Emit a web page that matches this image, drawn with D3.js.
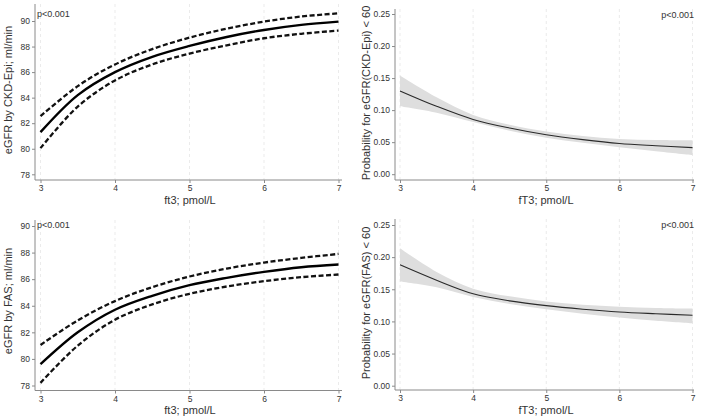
<!DOCTYPE html>
<html>
<head>
<meta charset="utf-8">
<script src="https://cdn.jsdelivr.net/npm/d3@7"></script>
<style>
  html, body { margin: 0; padding: 0; background: #fff; }
  svg { display: block; font-family: "Liberation Sans", Arial, sans-serif; }
</style>
</head>
<body>
<svg id="chart" width="702" height="420"></svg>
<script>
// ---- data ----
const ft3 = [3, 3.5, 4, 4.5, 5, 5.5, 6, 6.5, 7];
const xTicks = [3, 4, 5, 6, 7];

// eGFR by CKD-Epi
const ckdFit   = [81.3, 84.2, 86.0, 87.2, 88.05, 88.75, 89.3, 89.7, 89.95];
const ckdUpper = [82.55, 84.9, 86.6, 87.8, 88.7, 89.4, 89.95, 90.35, 90.6];
const ckdLower = [80.05, 83.3, 85.35, 86.6, 87.45, 88.1, 88.65, 89.0, 89.25];

// eGFR by FAS
const fasFit   = [79.6, 82.0, 83.7, 84.75, 85.55, 86.1, 86.55, 86.9, 87.1];
const fasUpper = [81.05, 82.9, 84.35, 85.4, 86.2, 86.8, 87.25, 87.6, 87.9];
const fasLower = [78.2, 81.0, 82.95, 84.1, 84.9, 85.45, 85.85, 86.15, 86.35];

// Probability eGFR(CKD-Epi) < 60
const pCkdFit   = [0.130, 0.106, 0.0855, 0.072, 0.0615, 0.054, 0.048, 0.0445, 0.0415];
const pCkdUpper = [0.154, 0.120, 0.0925, 0.077, 0.0665, 0.0595, 0.0548, 0.0533, 0.053];
const pCkdLower = [0.106, 0.096, 0.0815, 0.068, 0.057, 0.049, 0.042, 0.036, 0.030];

// Probability eGFR(FAS) < 60
const pFasFit   = [0.188, 0.164, 0.143, 0.132, 0.1245, 0.119, 0.1147, 0.112, 0.1097];
const pFasUpper = [0.214, 0.177, 0.151, 0.139, 0.131, 0.126, 0.123, 0.121, 0.120];
const pFasLower = [0.162, 0.153, 0.138, 0.127, 0.119, 0.112, 0.106, 0.101, 0.097];

const egfrTicks = [78, 80, 82, 84, 86, 88, 90];
const probTicks = [0, 0.05, 0.10, 0.15, 0.20, 0.25];

const pText = "p<0.001";

// ---- layout ----
const panels = [
  { kind: "egfr", fit: ckdFit, up: ckdUpper, lo: ckdLower,
    ytitle: "eGFR by CKD-Epi; ml/min", xtitle: "ft3; pmol/L",
    xr: [40.5, 338.5], yd: [78, 90], yr: [174.3, 21], ax: 35, axTop: 4, axBottom: 180, axRight: 342,
    ytX: 12, ytY: 90, xtX: 190, xtY: 203.5, pX: 37, pY: 17, pAnchor: "start", ticks: egfrTicks, fmt: d3.format("d") },
  { kind: "prob", fit: pCkdFit, up: pCkdUpper, lo: pCkdLower,
    ytitle: "Probability for eGFR(CKD-Epi) < 60", xtitle: "fT3; pmol/L",
    xr: [400, 692.5], yd: [0, 0.25], yr: [174.2, 14], ax: 395, axTop: 9, axBottom: 180, axRight: 694,
    ytX: 370, ytY: 93, xtX: 546, xtY: 203.5, pX: 694, pY: 17.5, pAnchor: "end", ticks: probTicks, fmt: d3.format(".2f") },
  { kind: "egfr", fit: fasFit, up: fasUpper, lo: fasLower,
    ytitle: "eGFR by FAS; ml/min", xtitle: "ft3; pmol/L",
    xr: [40.5, 338.5], yd: [78, 90], yr: [385.5, 226], ax: 35, axTop: 220, axBottom: 390.5, axRight: 342,
    ytX: 12, ytY: 301, xtX: 190, xtY: 413.5, pX: 37, pY: 228, pAnchor: "start", ticks: egfrTicks, fmt: d3.format("d") },
  { kind: "prob", fit: pFasFit, up: pFasUpper, lo: pFasLower,
    ytitle: "Probability for eGFR(FAS) < 60", xtitle: "fT3; pmol/L",
    xr: [400, 692.5], yd: [0, 0.25], yr: [385.7, 225], ax: 395, axTop: 219, axBottom: 390, axRight: 694,
    ytX: 370, ytY: 303, xtX: 546, xtY: 413.5, pX: 694, pY: 227.5, pAnchor: "end", ticks: probTicks, fmt: d3.format(".2f") }
];

const svg = d3.select("#chart");
const axisColor = "#8a8a8a";
const textColor = "#333";
const curve = d3.curveCatmullRom.alpha(0.5);

panels.forEach(p => {
  const x = d3.scaleLinear().domain([3, 7]).range(p.xr);
  const y = d3.scaleLinear().domain(p.yd).range(p.yr);
  const g = svg.append("g");

  // grid (vertical dashed)
  g.selectAll("line.grid").data(xTicks).enter().append("line")
    .attr("x1", d => x(d)).attr("x2", d => x(d))
    .attr("y1", p.axTop).attr("y2", p.axBottom)
    .attr("stroke", "#e6e6e6").attr("stroke-width", 0.8)
    .attr("stroke-dasharray", "3,3");

  // y axis
  const yAxis = d3.axisLeft(y).tickValues(p.ticks).tickFormat(p.fmt).tickSize(3).tickPadding(2);
  const yg = g.append("g").attr("transform", `translate(${p.ax},0)`).call(yAxis);
  yg.select(".domain").remove();
  yg.append("line").attr("x1", 0).attr("x2", 0).attr("y1", p.axTop).attr("y2", p.axBottom)
    .attr("stroke", axisColor).attr("stroke-width", 1);

  // x axis
  const xAxis = d3.axisBottom(x).tickValues(xTicks).tickFormat(d3.format("d")).tickSize(3).tickPadding(2);
  const xg = g.append("g").attr("transform", `translate(0,${p.axBottom})`).call(xAxis);
  xg.select(".domain").remove();
  xg.append("line").attr("x1", p.ax).attr("x2", p.axRight).attr("y1", 0).attr("y2", 0)
    .attr("stroke", axisColor).attr("stroke-width", 1);

  [yg, xg].forEach(a => {
    a.selectAll(".tick line").attr("stroke", axisColor);
    a.selectAll(".tick text").attr("fill", textColor).style("font-size", "8.5px")
      .style("font-family", "'Liberation Sans', Arial, sans-serif");
  });

  const pts = ft3.map((v, i) => ({ x: v, f: p.fit[i], u: p.up[i], l: p.lo[i] }));

  if (p.kind === "prob") {
    const area = d3.area().x(d => x(d.x)).y0(d => y(d.l)).y1(d => y(d.u)).curve(curve);
    g.append("path").datum(pts).attr("d", area).attr("fill", "#dedede").attr("stroke", "none");
    const line = d3.line().x(d => x(d.x)).y(d => y(d.f)).curve(curve);
    g.append("path").datum(pts).attr("d", line).attr("fill", "none")
      .attr("stroke", "#2a2a2a").attr("stroke-width", 1.1);
  } else {
    const mk = key => d3.line().x(d => x(d.x)).y(d => y(d[key])).curve(curve);
    ["u", "l"].forEach(k => {
      g.append("path").datum(pts).attr("d", mk(k)).attr("fill", "none")
        .attr("stroke", "#111").attr("stroke-width", 2.3).attr("stroke-dasharray", "5,2.5");
    });
    g.append("path").datum(pts).attr("d", mk("f")).attr("fill", "none")
      .attr("stroke", "#000").attr("stroke-width", 2.4);
  }

  // p-value
  g.append("text").attr("x", p.pX).attr("y", p.pY).attr("text-anchor", p.pAnchor)
    .attr("fill", textColor).style("font-size", "9px").text(pText);

  // axis titles
  g.append("text").attr("x", p.xtX).attr("y", p.xtY).attr("text-anchor", "middle")
    .attr("fill", textColor).style("font-size", "11px").text(p.xtitle);
  g.append("text").attr("transform", `translate(${p.ytX},${p.ytY}) rotate(-90)`)
    .attr("text-anchor", "middle").attr("fill", textColor).style("font-size", "11px").text(p.ytitle);
});
</script>
</body>
</html>
